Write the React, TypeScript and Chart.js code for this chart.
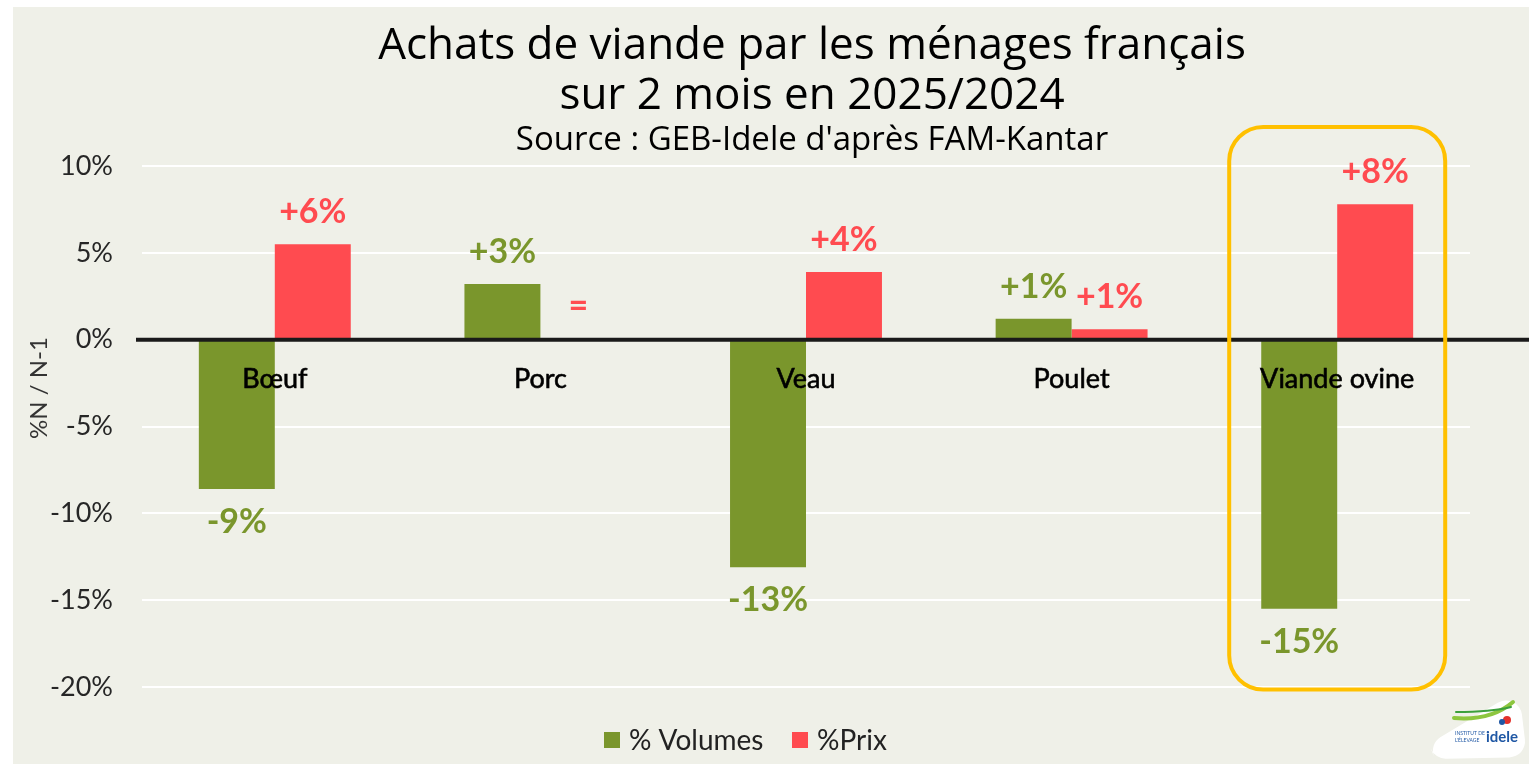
import React, { useEffect, useRef } from "react";
import { Chart, registerables } from "chart.js";

Chart.register(...registerables);

const categories = ["Bœuf", "Porc", "Veau", "Poulet", "Viande ovine"];
const seriesNames = ["% Volumes", "%Prix"];
const volumes = [-8.6, 3.2, -13.1, 1.2, -15.5];
const prix = [5.5, 0.1, 3.9, 0.6, 7.8];
const volumeLabels = ["-9%", "+3%", "-13%", "+1%", "-15%"];
const prixLabels = ["+6%", "=", "+4%", "+1%", "+8%"];
const titleLines = ["Achats de viande par les ménages français", "sur 2 mois en 2025/2024"];
const subtitle = "Source : GEB-Idele d'après FAM-Kantar";
const yAxisTitle = "%N / N-1";
const highlightedCategory = 4;

const GREEN = "#7A962C";
const RED = "#FF4B50";
const BG = "#EFF0E8";

function roundedPoly(ctx: any, pts: number[][], r: number) {
  const n = pts.length;
  ctx.beginPath();
  const mid = (a: number[], b: number[]) => [(a[0] + b[0]) / 2, (a[1] + b[1]) / 2];
  const start = mid(pts[n - 1], pts[0]);
  ctx.moveTo(start[0], start[1]);
  for (let i = 0; i < n; i++) {
    const p = pts[i];
    const q = pts[(i + 1) % n];
    const m = mid(p, q);
    ctx.arcTo(p[0], p[1], m[0], m[1], r);
  }
  ctx.closePath();
}

const overlay = {
  id: "overlay",
  afterDatasetsDraw(chart: any) {
    const { ctx, scales, chartArea } = chart;
    const x = scales.x;
    const y = scales.y;
    const y0 = y.getPixelForValue(0);
    ctx.save();

    // zero line
    ctx.strokeStyle = "#1a1a1a";
    ctx.lineWidth = 4;
    ctx.beginPath();
    ctx.moveTo(chartArea.left - 6, y0);
    ctx.lineTo(chart.width, y0);
    ctx.stroke();

    // category labels
    ctx.fillStyle = "#000";
    ctx.strokeStyle = "#000";
    ctx.lineWidth = 0.6;
    ctx.textAlign = "center";
    ctx.textBaseline = "middle";
    ctx.font = "27px Lato";
    categories.forEach((c, i) => {
      ctx.fillText(c, x.getPixelForValue(i), y0 + 40);
      ctx.strokeText(c, x.getPixelForValue(i), y0 + 40);
    });

    // value labels
    const labelSets = [volumeLabels, prixLabels];
    const colors = [GREEN, RED];
    ctx.font = "bold 34px Lato";
    chart.data.datasets.forEach((ds: any, di: number) => {
      const meta = chart.getDatasetMeta(di);
      meta.data.forEach((bar: any, i: number) => {
        const v = ds.data[i];
        const yy = v >= 0 ? bar.y - 32 : bar.y + 33;
        ctx.fillStyle = colors[di];
        ctx.fillText(labelSets[di][i], bar.x, yy);
      });
    });

    // highlight box
    const cx = x.getPixelForValue(highlightedCategory);
    const half = 108;
    const top = y.getPixelForValue(12.25);
    const bottom = y.getPixelForValue(-20.15);
    ctx.strokeStyle = "#FFC000";
    ctx.lineWidth = 4;
    ctx.beginPath();
    ctx.roundRect(cx - half, top, half * 2, bottom - top, 34);
    ctx.stroke();

    // titles
    ctx.fillStyle = "#000";
    ctx.font = "44px 'Open Sans'";
    ctx.fillText(titleLines[0], 799, 39);
    ctx.fillText(titleLines[1], 799, 89);
    ctx.font = "33px 'Open Sans'";
    ctx.fillText(subtitle, 799, 134);

    // y axis title
    ctx.save();
    ctx.translate(26, 381);
    ctx.rotate(-Math.PI / 2);
    ctx.fillStyle = "#333";
    ctx.font = "24px Lato";
    ctx.fillText(yAxisTitle, 0, 0);
    ctx.restore();

    // legend
    ctx.textAlign = "left";
    ctx.font = "28px Lato";
    const legendY = 733;
    const legendX = [591, 779];
    seriesNames.forEach((n, i) => {
      ctx.fillStyle = colors[i];
      ctx.fillRect(legendX[i], legendY - 8, 16, 16);
      ctx.fillStyle = "#222";
      ctx.fillText(n, legendX[i] + 25, legendY + 1);
    });

    // logo
    ctx.fillStyle = "#ffffff";
    roundedPoly(
      ctx,
      [
        [1416, 737],
        [1506, 683],
        [1514, 750],
        [1422, 752],
      ],
      16
    );
    ctx.fill();
    ctx.strokeStyle = "#8DC63F";
    ctx.lineWidth = 4;
    ctx.lineCap = "round";
    ctx.beginPath();
    ctx.moveTo(1441, 711);
    ctx.quadraticCurveTo(1478, 714, 1500, 695);
    ctx.stroke();
    ctx.strokeStyle = "#3CA03C";
    ctx.lineWidth = 2;
    ctx.beginPath();
    ctx.moveTo(1443, 705);
    ctx.quadraticCurveTo(1478, 705, 1498, 700);
    ctx.stroke();
    ctx.fillStyle = "#E4322B";
    ctx.beginPath();
    ctx.arc(1494, 713, 4, 0, Math.PI * 2);
    ctx.fill();
    ctx.fillStyle = "#1F57A4";
    ctx.beginPath();
    ctx.arc(1489, 715, 3, 0, Math.PI * 2);
    ctx.fill();
    ctx.font = "bold 15px Lato";
    ctx.textAlign = "left";
    ctx.fillText("idele", 1473, 730);
    ctx.font = "5px Lato";
    ctx.fillText("INSTITUT DE", 1442, 726);
    ctx.fillText("L'ÉLEVAGE", 1442, 733);

    ctx.restore();
  },
};

export default function App() {
  const canvasRef = useRef<HTMLCanvasElement | null>(null);

  useEffect(() => {
    if (!canvasRef.current) return;
    const chart = new Chart(canvasRef.current, {
      type: "bar",
      data: {
        labels: categories,
        datasets: [
          { label: seriesNames[0], data: volumes, backgroundColor: GREEN },
          { label: seriesNames[1], data: prix, backgroundColor: RED },
        ],
      },
      options: {
        responsive: true,
        maintainAspectRatio: false,
        animation: false,
        layout: { padding: { left: 0, top: 159, right: 59, bottom: 77 } },
        datasets: {
          bar: { categoryPercentage: 0.572, barPercentage: 1.0 },
        },
        plugins: {
          legend: { display: false },
          title: { display: false },
          tooltip: { enabled: false },
        },
        scales: {
          x: { display: false },
          y: {
            min: -20,
            max: 10,
            afterFit(scale: any) {
              scale.width = 129;
            },
            border: { display: false },
            grid: { color: "#ffffff", lineWidth: 2, drawTicks: false },
            ticks: {
              stepSize: 5,
              padding: 29,
              color: "#262626",
              font: { family: "Lato", size: 27 },
              callback: (v: any) => `${v}%`,
            },
          },
        },
      },
      plugins: [overlay],
    } as any);
    return () => chart.destroy();
  }, []);

  return (
    <div
      style={{
        position: "absolute",
        left: 13,
        top: 7,
        width: 1516,
        height: 757,
        background: BG,
      }}
    >
      <canvas ref={canvasRef} />
    </div>
  );
}
